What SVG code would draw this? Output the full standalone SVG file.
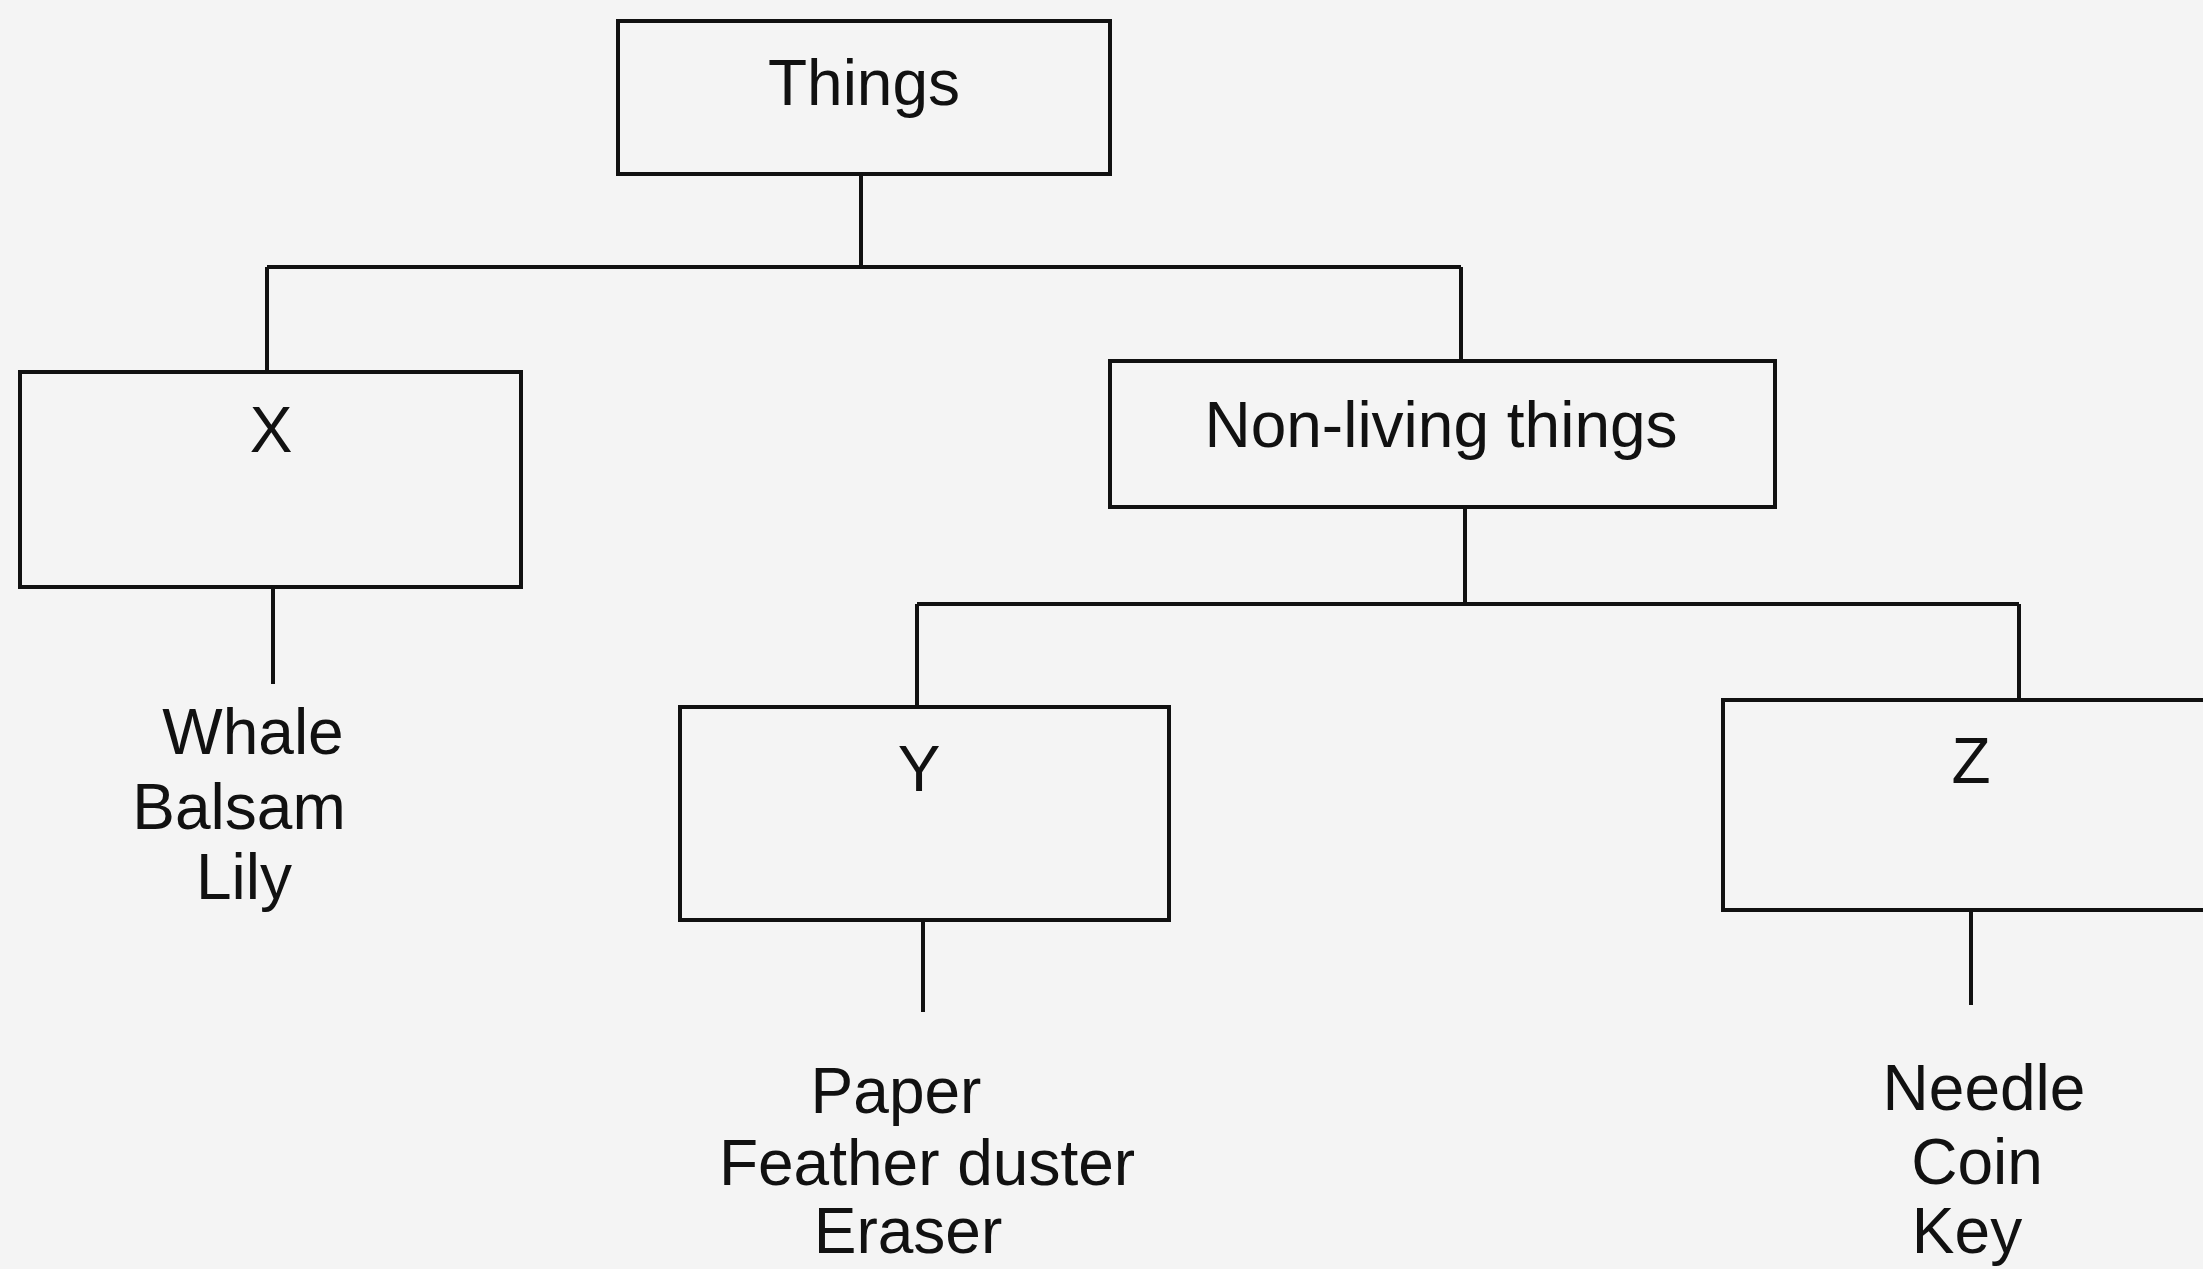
<svg xmlns="http://www.w3.org/2000/svg" width="2203" height="1269" viewBox="0 0 2203 1269">
<style>
.box{fill:none;stroke:#111;stroke-width:4}
.ln{fill:none;stroke:#111;stroke-width:4}
.t{font-family:"Liberation Sans",Arial,sans-serif;font-size:64px;fill:#111;text-anchor:middle}
</style>
<rect width="2203" height="1269" fill="#f4f4f4"/>
<g id="connectors">
<path class="ln" d="M861 174 V267 M267 267 H1461 M267 267 V372 M1461 267 V361"/>
<path class="ln" d="M273 587 V684"/>
<path class="ln" d="M1465 507 V604 M917 604 H2019 M917 604 V707 M2019 604 V700"/>
<path class="ln" d="M923 920 V1012"/>
<path class="ln" d="M1971 910 V1005"/>
</g>
<g id="things"><rect class="box" x="618" y="21" width="492" height="153"/><text class="t" x="864" y="105">Things</text></g>
<g id="x"><rect class="box" x="20" y="372" width="501" height="215"/><text class="t" x="271" y="452">X</text></g>
<g id="x-items"><text class="t" x="253" y="754">Whale</text><text class="t" x="239" y="829">Balsam</text><text class="t" x="244" y="899">Lily</text></g>
<g id="nonliving"><rect class="box" x="1110" y="361" width="665" height="146"/><text class="t" x="1441" y="447">Non-living things</text></g>
<g id="y"><rect class="box" x="680" y="707" width="489" height="213"/><text class="t" x="919" y="791">Y</text></g>
<g id="y-items"><text class="t" x="896" y="1113">Paper</text><text class="t" x="927" y="1185">Feather duster</text><text class="t" x="908" y="1253">Eraser</text></g>
<g id="z"><rect class="box" x="1723" y="700" width="520" height="210"/><text class="t" x="1971" y="783">Z</text></g>
<g id="z-items"><text class="t" x="1984" y="1110">Needle</text><text class="t" x="1977" y="1184">Coin</text><text class="t" x="1967" y="1253">Key</text></g>
</svg>
